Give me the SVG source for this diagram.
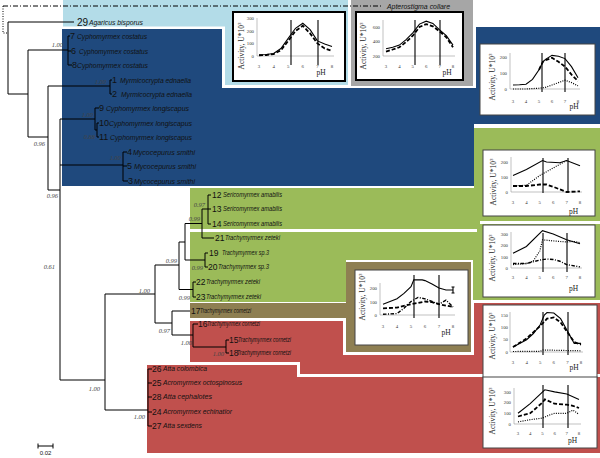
<svg xmlns="http://www.w3.org/2000/svg" width="600" height="458" viewBox="0 0 600 458">
<style>
.tn{font-family:"Liberation Sans",Arial,sans-serif;font-style:italic;fill:#111}
.nm{font-family:"Liberation Sans",Arial,sans-serif;fill:#111}
.sv{font-family:"Liberation Serif","Times New Roman",serif;font-style:italic;font-size:6.5px;fill:#444}
.yl{font-family:"Liberation Serif","Times New Roman",serif;font-size:7.5px;fill:#222}
.tk{font-family:"Liberation Serif","Times New Roman",serif;font-size:4.8px;fill:#333}
.tkx{font-family:"Liberation Serif","Times New Roman",serif;font-size:4.8px;fill:#333;text-anchor:middle}
.ph{font-family:"Liberation Serif","Times New Roman",serif;font-size:7.5px;fill:#222;text-anchor:middle}
.box{fill:#fff;stroke:#444;stroke-width:1}
.boxb{fill:#fff;stroke:#000;stroke-width:2}
.ax{stroke:#999;stroke-width:0.6;fill:none}
.vl{stroke:#000;stroke-width:1.1;fill:none}
.s{stroke:#000;stroke-width:1.1;fill:none}
.d{stroke:#000;stroke-width:1.8;fill:none;stroke-dasharray:4 2}
.o{stroke:#000;stroke-width:1.2;fill:none;stroke-dasharray:1 1.3}
.dd{stroke:#000;stroke-width:1.4;fill:none;stroke-dasharray:3.5 1.5 1 1.5}
.br{stroke:#000;stroke-width:1;fill:none}
</style>
<rect width="600" height="458" fill="#fff"/>
<!-- background regions -->
<polygon fill="#b3dce8" points="63,0 348,0 348,85 225,85 225,26.5 63,26.5"/>
<polygon fill="#a6a6a6" points="351,0 473,0 473,86 351,86"/>
<polygon fill="#1f497d" points="62,29 222,29 222,88 476,88 476,27 600,27 600,124 474,124 474,186 62,186"/>
<polygon fill="#9bbb59" points="190,188 474,188 474,128 600,128 600,221 480,221 480,229 190,229"/>
<polygon fill="#9bbb59" points="190,232 477,232 477,224 600,224 600,300 473,300 473,260 346,260 346,302 190,302"/>
<polygon fill="#8e7f52" points="190,303 346,303 346,262 471,262 471,352 346,352 346,318 190,318"/>
<polygon fill="#c0504d" points="190,321 343,321 343,355 474,355 474,303 600,303 600,374 300,374 300,362 190,362"/>
<polygon fill="#c0504d" points="147,365 297,365 297,377 600,377 600,453 147,453"/>

<g id="connectors">
<path class="br" stroke-dasharray="5 2 1 2" d="M3,6H382"/>
<path class="br" stroke-dasharray="1 1.5" d="M3,6V33H8"/>
<path class="br" d="M8,22V94M8,22H74M8,94H28M28,50V137M28,50H68M68,36V65M68,36H70M68,51H71M68,65H72M28,137H48M48,86V190M48,86H110M110,80V94M110,80H112M110,94H112M48,190H60M60,119V380M60,119H95M95,108V130M95,108H99M95,130H97M97,123V137M97,123H99M97,137H99M60,165H123M123,152V181M123,152H127M123,166H127M123,181H128M60,380H105M105,294V410M105,410H148M148,369V426M148,369H152M148,383H152M148,397H152M148,412H152M148,426H152M105,294H155M155,265V323M155,265H179M179,242V289.5M179,242H185M185,223.5V260M185,223.5H202M202,209V238M202,209H208M208,195V224M208,195H211M208,209H211M208,224H211M202,238H214M185,260H205M205,253V267M205,253H208M205,267H208M179,289.5H193M193,282V297M193,282H196M193,297H196M155,323H172M172,311V335M172,311H190M172,335H193M193,324V347M193,324H198M193,347H226M226,340V353M226,340H229M226,353H229"/>
<path class="br" d="M38,446H53M38,443.5V448.5M53,443.5V448.5"/>
</g>

<!-- support values -->
<g id="support">
<text class="sv" x="63" y="47" text-anchor="end">1.00</text>
<text class="sv" x="106" y="83.5" text-anchor="end">1.00</text>
<text class="sv" x="93" y="116.5" text-anchor="end">1.00</text>
<text class="sv" x="95" y="138.5" text-anchor="end">0.88</text>
<text class="sv" x="45" y="145.5" text-anchor="end">0.96</text>
<text class="sv" x="121" y="159.5" text-anchor="end">1.00</text>
<text class="sv" x="58" y="197.5" text-anchor="end">0.96</text>
<text class="sv" x="55" y="268.5" text-anchor="end">0.61</text>
<text class="sv" x="205" y="206.5" text-anchor="end">0.97</text>
<text class="sv" x="200" y="220.5" text-anchor="end">0.99</text>
<text class="sv" x="177" y="262.5" text-anchor="end">0.99</text>
<text class="sv" x="203" y="269.5" text-anchor="end">0.99</text>
<text class="sv" x="190" y="299.5" text-anchor="end">0.99</text>
<text class="sv" x="150" y="292.5" text-anchor="end">1.00</text>
<text class="sv" x="170" y="332.5" text-anchor="end">0.97</text>
<text class="sv" x="192" y="344.5" text-anchor="end">1.00</text>
<text class="sv" x="224" y="355.5" text-anchor="end">1.00</text>
<text class="sv" x="100" y="390.5" text-anchor="end">1.00</text>
<text class="sv" x="145" y="418.5" text-anchor="end">1.00</text>
</g>

<!-- taxa -->
<g id="tApt"><text class="tn" x="387" y="8.5" font-size="7" textLength="63" lengthAdjust="spacingAndGlyphs">Apterostigma collare</text></g>
<g id="t29"><text class="nm" x="77" y="25.6" font-size="10">29</text><text class="tn" x="89" y="24.5" font-size="7" textLength="54" lengthAdjust="spacingAndGlyphs">Agaricus bisporus</text></g>
<g id="t7"><text class="nm" x="70" y="39.2" font-size="9">7</text><text class="tn" x="77" y="38.5" font-size="7" textLength="70" lengthAdjust="spacingAndGlyphs">Cyphomyrmex costatus</text></g>
<g id="t6"><text class="nm" x="71" y="54.2" font-size="9">6</text><text class="tn" x="79" y="53.5" font-size="7" textLength="69" lengthAdjust="spacingAndGlyphs">Cyphomyrmex costatus</text></g>
<g id="t8"><text class="nm" x="72" y="68.2" font-size="9">8</text><text class="tn" x="77" y="67.5" font-size="7" textLength="71" lengthAdjust="spacingAndGlyphs">Cyphomyrmex costatus</text></g>
<g id="t1"><text class="nm" x="112" y="83.2" font-size="9">1</text><text class="tn" x="120" y="82.5" font-size="7" textLength="71" lengthAdjust="spacingAndGlyphs">Myrmicocrypta ednaella</text></g>
<g id="t2"><text class="nm" x="112" y="97.2" font-size="9">2</text><text class="tn" x="121" y="96.5" font-size="7" textLength="71" lengthAdjust="spacingAndGlyphs">Myrmicocrypta ednaella</text></g>
<g id="t9"><text class="nm" x="99" y="111.2" font-size="9">9</text><text class="tn" x="106" y="110.5" font-size="7" textLength="83" lengthAdjust="spacingAndGlyphs">Cyphomyrmex longiscapus</text></g>
<g id="t10"><text class="nm" x="99" y="126.2" font-size="9">10</text><text class="tn" x="109" y="125.5" font-size="7" textLength="83" lengthAdjust="spacingAndGlyphs">Cyphomyrmex longiscapus</text></g>
<g id="t11"><text class="nm" x="99" y="140.2" font-size="9">11</text><text class="tn" x="110" y="139.5" font-size="7" textLength="82" lengthAdjust="spacingAndGlyphs">Cyphomyrmex longiscapus</text></g>
<g id="t4"><text class="nm" x="127" y="155.2" font-size="9">4</text><text class="tn" x="133" y="154.5" font-size="7" textLength="62" lengthAdjust="spacingAndGlyphs">Mycocepurus smithi</text></g>
<g id="t5"><text class="nm" x="127" y="169.2" font-size="9">5</text><text class="tn" x="134" y="168.5" font-size="7" textLength="62" lengthAdjust="spacingAndGlyphs">Mycocepurus smithi</text></g>
<g id="t3"><text class="nm" x="128" y="184.2" font-size="9">3</text><text class="tn" x="134" y="183.5" font-size="7" textLength="61" lengthAdjust="spacingAndGlyphs">Mycocepurus smithi</text></g>
<g id="t12"><text class="nm" x="212" y="198" font-size="8.5">12</text><text class="tn" x="223" y="197.3" font-size="6.5" textLength="59" lengthAdjust="spacingAndGlyphs">Sericomyrmex amabilis</text></g>
<g id="t13"><text class="nm" x="212" y="212" font-size="8.5">13</text><text class="tn" x="223" y="211.3" font-size="6.5" textLength="59" lengthAdjust="spacingAndGlyphs">Sericomyrmex amabilis</text></g>
<g id="t14"><text class="nm" x="212" y="227" font-size="8.5">14</text><text class="tn" x="223" y="226.3" font-size="6.5" textLength="59" lengthAdjust="spacingAndGlyphs">Sericomyrmex amabilis</text></g>
<g id="t21"><text class="nm" x="215" y="241" font-size="8.5">21</text><text class="tn" x="225" y="240.3" font-size="6.5" textLength="55" lengthAdjust="spacingAndGlyphs">Trachymyrmex zeteki</text></g>
<g id="t19"><text class="nm" x="209" y="256" font-size="8.5">19</text><text class="tn" x="222" y="255.3" font-size="6.5" textLength="47" lengthAdjust="spacingAndGlyphs">Trachymyrmex sp.3</text></g>
<g id="t20"><text class="nm" x="208" y="270" font-size="8.5">20</text><text class="tn" x="218" y="269.3" font-size="6.5" textLength="51" lengthAdjust="spacingAndGlyphs">Trachymyrmex sp.3</text></g>
<g id="t22"><text class="nm" x="196" y="285" font-size="8.5">22</text><text class="tn" x="206" y="284.3" font-size="6.5" textLength="54" lengthAdjust="spacingAndGlyphs">Trachymyrmex zeteki</text></g>
<g id="t23"><text class="nm" x="196" y="300" font-size="8.5">23</text><text class="tn" x="206" y="299.3" font-size="6.5" textLength="55" lengthAdjust="spacingAndGlyphs">Trachymyrmex zeteki</text></g>
<g id="t17"><text class="nm" x="191" y="314" font-size="8.5">17</text><text class="tn" x="200" y="313.3" font-size="6.5" textLength="51" lengthAdjust="spacingAndGlyphs">Trachymyrmex cornetzi</text></g>
<g id="t16"><text class="nm" x="198" y="327" font-size="8.5">16</text><text class="tn" x="207" y="326.3" font-size="6.5" textLength="53" lengthAdjust="spacingAndGlyphs">Trachymyrmex cornetzi</text></g>
<g id="t15"><text class="nm" x="229" y="343" font-size="8.5">15</text><text class="tn" x="238" y="342.3" font-size="6.5" textLength="53" lengthAdjust="spacingAndGlyphs">Trachymyrmex cornetzi</text></g>
<g id="t18"><text class="nm" x="229" y="356" font-size="8.5">18</text><text class="tn" x="237" y="355.3" font-size="6.5" textLength="54" lengthAdjust="spacingAndGlyphs">Trachymyrmex cornetzi</text></g>
<g id="t26"><text class="nm" x="152" y="372" font-size="8.5">26</text><text class="tn" x="163" y="371.3" font-size="6.7" textLength="44" lengthAdjust="spacingAndGlyphs">Atta colombica</text></g>
<g id="t25"><text class="nm" x="152" y="386" font-size="8.5">25</text><text class="tn" x="163" y="385.3" font-size="6.7" textLength="79" lengthAdjust="spacingAndGlyphs">Acromyrmex octospinosus</text></g>
<g id="t28"><text class="nm" x="152" y="400" font-size="8.5">28</text><text class="tn" x="163" y="399.3" font-size="6.7" textLength="49" lengthAdjust="spacingAndGlyphs">Atta cephalotes</text></g>
<g id="t24"><text class="nm" x="152" y="415" font-size="8.5">24</text><text class="tn" x="163" y="414.3" font-size="6.7" textLength="69" lengthAdjust="spacingAndGlyphs">Acromyrmex echinatior</text></g>
<g id="t27"><text class="nm" x="152" y="429" font-size="8.5">27</text><text class="tn" x="163" y="428.3" font-size="6.7" textLength="39" lengthAdjust="spacingAndGlyphs">Atta sexdens</text></g>
<g id="scale"><text class="nm" x="45.5" y="455" font-size="6" text-anchor="middle">0.02</text></g>

<!-- charts -->
<g id="chart-agaricus">
<rect class="boxb" x="233" y="12" width="112" height="69"/>
<text class="yl" transform="translate(243.5,46) rotate(-90)" text-anchor="middle">Activity, U*10<tspan dy="-3" font-size="5">3</tspan></text>
<g class="tk" text-anchor="end"><text x="254" y="20">300</text><text x="254" y="32.6">200</text><text x="254" y="45">100</text><text x="254" y="57.7">0</text></g>
<path class="ax" d="M257,18V56H334"/>
<g class="tkx"><text x="259" y="68">3</text><text x="273.6" y="68">4</text><text x="288.2" y="68">5</text><text x="302.8" y="68">6</text><text x="317.4" y="68">7</text><text x="332" y="68">8</text></g>
<text class="ph" x="321" y="75">pH</text>
<path class="vl" d="M291,20V65M318,20V65"/>
<polyline class="s" points="259,54.7 266.3,54.5 273.6,53.5 280.9,48.5 288.2,38.4 295.5,28.3 302.8,23.3 310.1,29.6 317.4,40.9 324.7,44.1 332,46.6"/>
<polyline class="d" points="259,55.4 266.3,55 273.6,54.1 280.9,50.3 288.2,40.9 295.5,30.9 302.8,25.8 310.1,33.4 317.4,43.4 324.7,48.5 332,51"/>
</g>

<g id="chart-apterostigma">
<rect class="boxb" x="356" y="12" width="107" height="68"/>
<text class="yl" transform="translate(365.5,46) rotate(-90)" text-anchor="middle">Activity, U*10<tspan dy="-3" font-size="5">3</tspan></text>
<g class="tk" text-anchor="end"><text x="380" y="28.7">600</text><text x="380" y="42.7">400</text><text x="380" y="57.7">200</text></g>
<path class="ax" d="M383,20V56H455"/>
<g class="tkx"><text x="386" y="68">3</text><text x="399.4" y="68">4</text><text x="412.8" y="68">5</text><text x="426.2" y="68">6</text><text x="439.6" y="68">7</text><text x="453" y="68">8</text></g>
<text class="ph" x="447" y="75">pH</text>
<path class="vl" d="M415,20V65M440,20V65"/>
<polyline class="s" points="386,48.8 392.7,47.3 399.4,45.1 406.1,39.7 412.8,32.8 419.5,24.1 426.2,21.2 432.9,23.4 439.6,29.9 446.3,35.7 453,45.1"/>
<polyline class="d" points="386,51.7 392.7,49.5 399.4,47.3 406.1,42 412.8,35.7 419.5,27 426.2,24.1 432.9,26.3 439.6,31.4 446.3,37.2 453,47.3"/>
</g>

<g id="chart-cyphomyrmex">
<rect class="box" x="480" y="44" width="115" height="71"/>
<text class="yl" transform="translate(494.5,77) rotate(-90)" text-anchor="middle">Activity, U*10<tspan dy="-3" font-size="5">3</tspan></text>
<g class="tk" text-anchor="end"><text x="507" y="58.7">200</text><text x="507" y="74.7">100</text><text x="507" y="90.7">0</text></g>
<path class="ax" d="M510,53V89H580"/>
<g class="tkx"><text x="513" y="102.5">3</text><text x="526" y="102.5">4</text><text x="539" y="102.5">5</text><text x="552" y="102.5">6</text><text x="565" y="102.5">7</text><text x="578" y="102.5">8</text></g>
<text class="ph" x="574" y="109">pH</text>
<path class="vl" d="M542,53V92M565,53V92"/>
<polyline class="s" points="513,85 519.5,84.8 526,84.2 532.5,79.4 539,69.8 542.9,61.8 545.5,59.4 552,55.4 558.5,56.2 565,58.6 571.5,66.6 578,77.8"/>
<polyline class="d" points="539,69.8 542.9,61.8 545.5,60.2 552,57.8 558.5,61.8 565,66.6 571.5,74.6 578,81"/>
<polyline class="o" points="513,89 526,89 539,88.2 545.5,87.4 552,85 558.5,82.6 565,80.2 571.5,82.6 578,85.8"/>
</g>

<g id="chart-sericomyrmex">
<rect class="box" x="483" y="150" width="112" height="66"/>
<text class="yl" transform="translate(495.5,182) rotate(-90)" text-anchor="middle">Activity, U*10<tspan dy="-3" font-size="5">3</tspan></text>
<g class="tk" text-anchor="end"><text x="508" y="163.7">200</text><text x="508" y="178.7">100</text><text x="508" y="193.7">0</text></g>
<path class="ax" d="M511,157V192H582"/>
<g class="tkx"><text x="513" y="203.5">3</text><text x="526.4" y="203.5">4</text><text x="539.8" y="203.5">5</text><text x="553.2" y="203.5">6</text><text x="566.6" y="203.5">7</text><text x="580" y="203.5">8</text></g>
<text class="ph" x="573.5" y="214">pH</text>
<path class="vl" d="M543,158V193M568,158V193"/>
<polyline class="s" points="513,175.5 526.4,169.5 542.5,160.5 546.5,162 559.9,162.8 566.6,160.5 580,165.8"/>
<polyline class="o" points="513,186 526.4,185.3 539.8,175.5 553.2,168 566.6,160.5"/>
<polyline class="d" points="513,186 526.4,186 539.8,184.5 546.5,184.5 553.2,186.8 566.6,192 580,191.3"/>
</g>

<g id="chart-trachymyrmex">
<rect class="box" x="483" y="225" width="112" height="72"/>
<text class="yl" transform="translate(494.5,258) rotate(-90)" text-anchor="middle">Activity, U*10<tspan dy="-3" font-size="5">3</tspan></text>
<g class="tk" text-anchor="end"><text x="508" y="235.7">300</text><text x="508" y="246.7">200</text><text x="508" y="258.7">100</text><text x="508" y="269.7">0</text></g>
<path class="ax" d="M511,232V268H582"/>
<g class="tkx"><text x="513" y="278.5">3</text><text x="526.4" y="278.5">4</text><text x="539.8" y="278.5">5</text><text x="553.2" y="278.5">6</text><text x="566.6" y="278.5">7</text><text x="580" y="278.5">8</text></g>
<text class="ph" x="573.5" y="291">pH</text>
<path class="vl" d="M543,233V272M567,233V272"/>
<polyline class="s" points="513,253.3 526.4,246.5 542.5,230.7 553.2,234.1 566.6,239.8 580,243.7"/>
<polyline class="o" points="513,264.6 526.4,263.5 533.1,261.2 539.8,251 542.5,239.8 553.2,240.9 566.6,242 573.3,241.4 580,242.6"/>
<polyline class="dd" points="513,263.5 526.4,263.5 539.8,260.1 546.5,259 553.2,259.5 559.9,261.2 566.6,264.6 580,266.9"/>
</g>

<g id="chart-cornetzi17">
<rect class="box" x="355" y="270" width="113" height="75"/>
<text class="yl" transform="translate(364.5,297) rotate(-90)" text-anchor="middle">Activity, U*10<tspan dy="-3" font-size="5">3</tspan></text>
<g class="tk" text-anchor="end"><text x="377" y="289.7">200</text><text x="377" y="303.7">100</text><text x="377" y="316.7">0</text></g>
<path class="ax" d="M380,283V315H455"/>
<g class="tkx"><text x="383" y="327.5">3</text><text x="397" y="327.5">4</text><text x="411" y="327.5">5</text><text x="425" y="327.5">6</text><text x="439" y="327.5">7</text><text x="453" y="327.5">8</text></g>
<text class="ph" x="446" y="335">pH</text>
<path class="vl" d="M414,275V318M439,275V318"/>
<polyline class="s" points="383,304.2 397,298.8 404,293.4 411,286.7 413.8,279.9 422.2,279.9 425,280.6 432,284 439,288 446,290 453,290"/>
<path class="s" d="M453,287V293M451.5,287H454.5M451.5,293H454.5"/>
<polyline class="dd" points="383,314.3 397,313.6 404,308.3 411,301.5 418,297.4 425,298.8 432,301.5 439,304.2 446,300.2 453,306.9"/>
<polyline class="d" points="383,308.3 397,307.6 411,304.2 418,302.9 425,301.5 432,302.2 439,304.2 446,305.6 453,306.9"/>
</g>

<g id="chart-cornetzi">
<rect class="box" x="483" y="305" width="114" height="73"/>
<text class="yl" transform="translate(494.5,336) rotate(-90)" text-anchor="middle">Activity, U*10<tspan dy="-3" font-size="5">3</tspan></text>
<g class="tk" text-anchor="end"><text x="508" y="316.7">150</text><text x="508" y="328.7">100</text><text x="508" y="341.3">50</text><text x="508" y="353.7">0</text></g>
<path class="ax" d="M510,312V352H583"/>
<g class="tkx"><text x="513" y="363.5">3</text><text x="526.6" y="363.5">4</text><text x="540.2" y="363.5">5</text><text x="553.8" y="363.5">6</text><text x="567.4" y="363.5">7</text><text x="581" y="363.5">8</text></g>
<text class="ph" x="574" y="370">pH</text>
<path class="vl" d="M543,312V355M568,312V355"/>
<polyline class="s" points="513,347.1 526.6,339.7 533.4,333.5 540.2,324.8 544.3,315 547,312.5 553.8,313 560.6,318.7 567.4,331 574.2,343.4 581,343.4"/>
<polyline class="d" points="513,347.1 526.6,338.4 540.2,326 547,318.7 553.8,317.4 560.6,322.4 567.4,332.2 574.2,342.1 581,344.6"/>
<polyline class="o" points="513,351.5 540.2,351.3 542.9,350 581,350.8"/>
</g>

<g id="chart-atta">
<rect class="box" x="483" y="377" width="114" height="71"/>
<text class="yl" transform="translate(494.5,411) rotate(-90)" text-anchor="middle">Activity, U*10<tspan dy="-3" font-size="5">3</tspan></text>
<g class="tk" text-anchor="end"><text x="511" y="393.7">300</text><text x="511" y="404.3">200</text><text x="511" y="415">100</text><text x="511" y="425.7">0</text></g>
<path class="ax" d="M514,388V424H581"/>
<g class="tkx"><text x="518" y="434.5">3</text><text x="530.2" y="434.5">4</text><text x="542.4" y="434.5">5</text><text x="554.6" y="434.5">6</text><text x="566.8" y="434.5">7</text><text x="579" y="434.5">8</text></g>
<text class="ph" x="572.5" y="443">pH</text>
<path class="vl" d="M543,385V428M568,385V428"/>
<polyline class="s" points="518,413.3 530.2,403.7 544.8,389.8 554.6,391.9 566.8,394 579,399.4"/>
<polyline class="d" points="518,416.5 530.2,413.3 542.4,402.6 544.8,399.4 554.6,403.7 566.8,404.7 572.9,405.8 579,408"/>
<polyline class="o" points="518,421.9 530.2,419.7 542.4,418.1 548.5,415.4 554.6,413.3 566.8,413.3 572.9,410.1 579,414.4"/>
</g>
</svg>
